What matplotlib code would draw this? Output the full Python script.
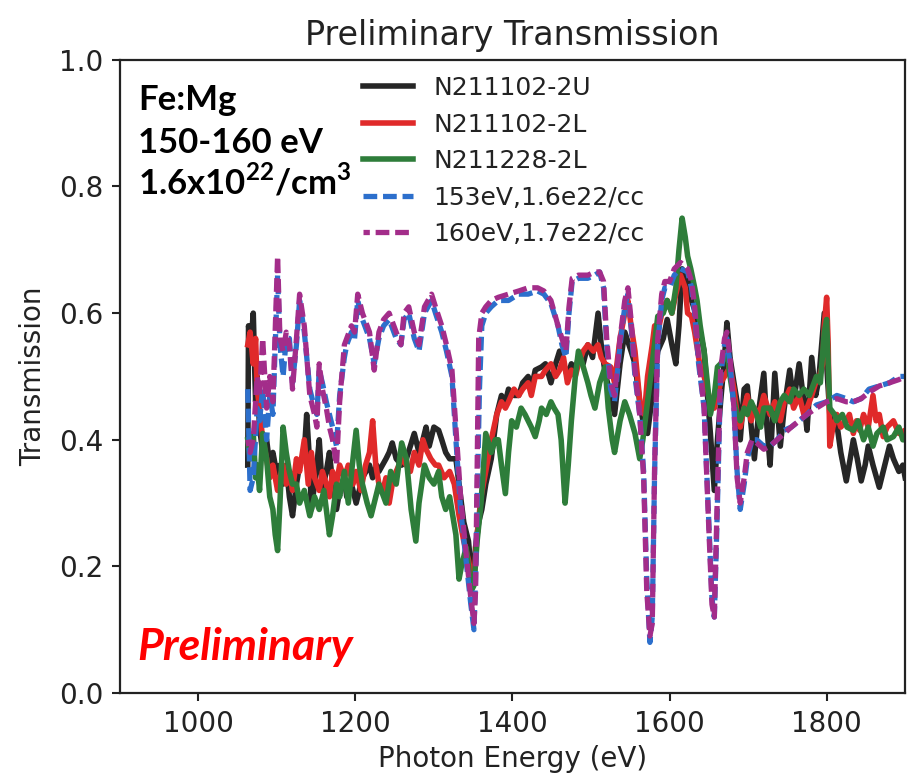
import matplotlib
matplotlib.use("Agg")
import matplotlib.pyplot as plt

plt.rcParams['font.family'] = ['DejaVu Sans']
plt.rcParams['mathtext.fontset'] = 'custom'
plt.rcParams['mathtext.rm'] = 'Lato:bold'
plt.rcParams['mathtext.bf'] = 'Lato:bold'

# N211102-2U (black)
e_2u = [1063, 1064, 1067, 1070, 1073, 1075, 1078, 1082, 1087, 1091, 1095, 1101, 1104, 1108, 1112,
        1116, 1120, 1125, 1129, 1135, 1138, 1142, 1144, 1148, 1151, 1154, 1158, 1163, 1167, 1171,
        1176, 1180, 1186, 1189, 1195, 1201, 1209, 1218, 1222, 1227, 1230, 1239, 1243, 1247, 1252,
        1259, 1265, 1270, 1275, 1281, 1286, 1290, 1294, 1300, 1306, 1310, 1315, 1320, 1328, 1332,
        1338, 1344, 1347, 1351, 1353, 1357, 1361, 1366, 1373, 1380, 1386, 1391, 1395, 1402, 1408,
        1413, 1420, 1424, 1429, 1437, 1442, 1449, 1455, 1460, 1465, 1470, 1475, 1480, 1484, 1490,
        1496, 1502, 1509, 1513, 1518, 1525, 1530, 1537, 1543, 1551, 1556, 1563, 1568, 1572, 1578,
        1585, 1592, 1597, 1603, 1608, 1612, 1616, 1620, 1623, 1628, 1632, 1639, 1644, 1649, 1652,
        1657, 1661, 1665, 1670, 1673, 1677, 1682, 1686, 1690, 1695, 1699, 1704, 1708, 1714, 1720,
        1724, 1728, 1734, 1738, 1741, 1746, 1753, 1758, 1765, 1771, 1775, 1781, 1786, 1790, 1797,
        1800, 1804, 1810, 1813, 1818, 1825, 1830, 1834, 1839, 1844, 1849, 1853, 1859, 1867, 1872,
        1880, 1885, 1892, 1897, 1900]
t_2u = [0.36, 0.58, 0.55, 0.60, 0.46, 0.50, 0.42, 0.38, 0.40, 0.36, 0.38, 0.34, 0.36, 0.33, 0.36,
        0.31, 0.28, 0.33, 0.36, 0.38, 0.44, 0.36, 0.29, 0.33, 0.36, 0.40, 0.32, 0.35, 0.38, 0.33,
        0.29, 0.32, 0.34, 0.31, 0.33, 0.30, 0.34, 0.36, 0.34, 0.36, 0.35, 0.37, 0.38, 0.395, 0.37,
        0.36, 0.37, 0.39, 0.41, 0.38, 0.40, 0.42, 0.39, 0.42, 0.415, 0.40, 0.38, 0.37, 0.37, 0.33,
        0.27, 0.24, 0.20, 0.18, 0.23, 0.27, 0.29, 0.33, 0.37, 0.44, 0.47, 0.46, 0.48, 0.47, 0.47,
        0.49, 0.50, 0.48, 0.51, 0.515, 0.52, 0.49, 0.52, 0.54, 0.52, 0.50, 0.52, 0.51, 0.53, 0.52,
        0.55, 0.53, 0.60, 0.55, 0.505, 0.47, 0.44, 0.52, 0.57, 0.54, 0.52, 0.45, 0.42, 0.41, 0.47,
        0.54, 0.56, 0.59, 0.55, 0.52, 0.58, 0.67, 0.64, 0.66, 0.62, 0.605, 0.57, 0.54, 0.46, 0.41,
        0.32, 0.40, 0.46, 0.53, 0.585, 0.53, 0.49, 0.46, 0.40, 0.48, 0.485, 0.42, 0.37, 0.45, 0.505,
        0.42, 0.36, 0.505, 0.44, 0.39, 0.45, 0.51, 0.46, 0.52, 0.46, 0.415, 0.53, 0.47, 0.495, 0.60,
        0.52, 0.44, 0.43, 0.425, 0.38, 0.335, 0.37, 0.40, 0.37, 0.335, 0.36, 0.39, 0.36, 0.325, 0.35,
        0.39, 0.37, 0.35, 0.36, 0.34]

# N211102-2L (red)
e_2l = [1063, 1066, 1070, 1073, 1075, 1078, 1082, 1087, 1091, 1095, 1101, 1104, 1108, 1112, 1116,
        1120, 1125, 1129, 1135, 1140, 1144, 1148, 1154, 1158, 1163, 1167, 1171, 1176, 1180, 1186,
        1191, 1197, 1201, 1207, 1213, 1218, 1222, 1226, 1230, 1235, 1239, 1243, 1247, 1252, 1259,
        1265, 1270, 1275, 1281, 1286, 1290, 1296, 1302, 1306, 1313, 1320, 1326, 1332, 1338, 1344,
        1347, 1351, 1355, 1360, 1366, 1373, 1380, 1386, 1391, 1395, 1402, 1408, 1413, 1420, 1424,
        1429, 1437, 1442, 1449, 1455, 1460, 1465, 1470, 1475, 1480, 1484, 1490, 1496, 1503, 1509,
        1513, 1518, 1525, 1530, 1537, 1543, 1547, 1551, 1556, 1563, 1568, 1572, 1578, 1581, 1585,
        1592, 1597, 1603, 1608, 1614, 1620, 1623, 1628, 1632, 1639, 1644, 1652, 1657, 1665, 1670,
        1677, 1682, 1686, 1690, 1695, 1699, 1704, 1708, 1714, 1720, 1728, 1734, 1741, 1746, 1753,
        1758, 1765, 1771, 1775, 1781, 1786, 1790, 1795, 1797, 1800, 1802, 1804, 1808, 1813, 1818,
        1825, 1829, 1834, 1838, 1842, 1847, 1853, 1859, 1863, 1867, 1872, 1877, 1885, 1892, 1900]
t_2l = [0.55, 0.57, 0.52, 0.56, 0.48, 0.45, 0.40, 0.37, 0.34, 0.36, 0.32, 0.34, 0.36, 0.33, 0.35,
        0.32, 0.37, 0.35, 0.40, 0.33, 0.38, 0.34, 0.32, 0.35, 0.33, 0.31, 0.35, 0.33, 0.36, 0.34,
        0.36, 0.33, 0.35, 0.32, 0.36, 0.38, 0.43, 0.36, 0.33, 0.32, 0.34, 0.30, 0.33, 0.35, 0.37,
        0.36, 0.35, 0.38, 0.36, 0.40, 0.385, 0.37, 0.36, 0.36, 0.34, 0.35, 0.33, 0.28, 0.24, 0.21,
        0.19, 0.18, 0.25, 0.31, 0.35, 0.40, 0.44, 0.46, 0.45, 0.46, 0.48, 0.47, 0.48, 0.49, 0.47,
        0.50, 0.50, 0.51, 0.52, 0.50, 0.51, 0.53, 0.49, 0.51, 0.50, 0.52, 0.54, 0.55, 0.54, 0.55,
        0.53, 0.52, 0.515, 0.49, 0.56, 0.60, 0.62, 0.58, 0.54, 0.45, 0.44, 0.50, 0.55, 0.58, 0.57,
        0.61, 0.62, 0.60, 0.63, 0.66, 0.64, 0.60, 0.595, 0.57, 0.515, 0.50, 0.46, 0.45, 0.49, 0.50,
        0.515, 0.48, 0.44, 0.42, 0.45, 0.47, 0.43, 0.45, 0.44, 0.47, 0.44, 0.46, 0.43, 0.46, 0.48,
        0.45, 0.47, 0.44, 0.45, 0.47, 0.49, 0.495, 0.52, 0.58, 0.625, 0.55, 0.39, 0.42, 0.44, 0.42,
        0.43, 0.44, 0.41, 0.43, 0.415, 0.44, 0.42, 0.47, 0.43, 0.44, 0.405, 0.42, 0.43, 0.41, 0.415]

# N211228-2L (green)
e_228 = [1063, 1066, 1070, 1073, 1075, 1078, 1082, 1087, 1091, 1095, 1098, 1101, 1104, 1108, 1112,
         1116, 1120, 1125, 1129, 1135, 1142, 1148, 1154, 1160, 1167, 1171, 1176, 1180, 1186, 1191,
         1197, 1201, 1205, 1209, 1215, 1220, 1226, 1230, 1239, 1245, 1252, 1259, 1265, 1271, 1277,
         1281, 1288, 1294, 1300, 1306, 1310, 1315, 1320, 1328, 1332, 1335, 1341, 1344, 1347, 1351,
         1355, 1360, 1366, 1373, 1378, 1382, 1386, 1391, 1395, 1399, 1405, 1411, 1416, 1420, 1424,
         1429, 1434, 1437, 1443, 1449, 1453, 1458, 1462, 1467, 1471, 1475, 1480, 1484, 1489, 1496,
         1500, 1505, 1511, 1518, 1522, 1527, 1530, 1537, 1543, 1549, 1556, 1562, 1566, 1572, 1578,
         1585, 1592, 1597, 1603, 1608, 1612, 1616, 1620, 1623, 1627, 1632, 1635, 1639, 1644, 1649,
         1652, 1657, 1661, 1665, 1670, 1673, 1677, 1682, 1686, 1690, 1695, 1699, 1704, 1711, 1716,
         1720, 1728, 1734, 1741, 1746, 1753, 1758, 1765, 1771, 1778, 1784, 1787, 1792, 1797, 1800,
         1802, 1804, 1810, 1813, 1820, 1826, 1834, 1840, 1847, 1853, 1859, 1864, 1872, 1877, 1885,
         1892, 1897, 1900]
t_228 = [0.40, 0.37, 0.41, 0.34, 0.36, 0.32, 0.41, 0.37, 0.31, 0.29, 0.25, 0.225, 0.30, 0.42, 0.38,
         0.35, 0.33, 0.33, 0.30, 0.32, 0.28, 0.31, 0.29, 0.32, 0.25, 0.28, 0.33, 0.31, 0.35, 0.30,
         0.37, 0.415, 0.36, 0.33, 0.30, 0.28, 0.31, 0.33, 0.30, 0.35, 0.33, 0.395, 0.37, 0.29, 0.24,
         0.30, 0.36, 0.34, 0.33, 0.35, 0.31, 0.29, 0.31, 0.25, 0.18, 0.20, 0.23, 0.20, 0.16, 0.17,
         0.24, 0.30, 0.41, 0.38, 0.40, 0.40, 0.36, 0.315, 0.38, 0.43, 0.42, 0.45, 0.44, 0.43, 0.42,
         0.405, 0.43, 0.45, 0.44, 0.46, 0.45, 0.44, 0.40, 0.30, 0.36, 0.43, 0.50, 0.54, 0.52, 0.49,
         0.47, 0.45, 0.49, 0.515, 0.45, 0.40, 0.38, 0.43, 0.46, 0.44, 0.41, 0.37, 0.40, 0.46, 0.52,
         0.595, 0.60, 0.62, 0.60, 0.64, 0.70, 0.75, 0.72, 0.69, 0.67, 0.64, 0.62, 0.58, 0.54, 0.48,
         0.44, 0.47, 0.515, 0.52, 0.53, 0.54, 0.50, 0.46, 0.44, 0.43, 0.45, 0.44, 0.46, 0.44, 0.42,
         0.45, 0.45, 0.43, 0.46, 0.47, 0.46, 0.48, 0.47, 0.48, 0.47, 0.49, 0.50, 0.49, 0.57, 0.59,
         0.52, 0.45, 0.44, 0.43, 0.44, 0.42, 0.415, 0.43, 0.40, 0.42, 0.39, 0.41, 0.42, 0.40, 0.405,
         0.42, 0.40, 0.40]

# model 153 eV, 1.6e22/cc (blue)
e_153 = [1063, 1066, 1070, 1075, 1078, 1082, 1087, 1091, 1095, 1101, 1104, 1108, 1112, 1116, 1120,
         1125, 1129, 1135, 1142, 1148, 1151, 1154, 1158, 1163, 1167, 1171, 1176, 1180, 1186, 1189,
         1195, 1199, 1203, 1209, 1218, 1224, 1230, 1236, 1243, 1252, 1258, 1262, 1268, 1275, 1281,
         1288, 1297, 1302, 1310, 1316, 1323, 1328, 1334, 1341, 1347, 1351, 1353, 1355, 1358, 1361,
         1366, 1373, 1382, 1395, 1408, 1420, 1432, 1440, 1449, 1458, 1463, 1468, 1472, 1476, 1484,
         1496, 1505, 1511, 1516, 1520, 1525, 1530, 1537, 1543, 1547, 1551, 1556, 1562, 1567, 1571,
         1575, 1578, 1581, 1585, 1590, 1594, 1600, 1606, 1614, 1623, 1628, 1632, 1637, 1644, 1649,
         1654, 1657, 1660, 1665, 1670, 1673, 1677, 1682, 1686, 1690, 1695, 1699, 1705, 1711, 1720,
         1728, 1737, 1746, 1755, 1765, 1775, 1787, 1800, 1813, 1825, 1834, 1844, 1854, 1867, 1880,
         1892, 1900]
t_153 = [0.48, 0.32, 0.34, 0.45, 0.43, 0.48, 0.40, 0.47, 0.44, 0.66, 0.55, 0.50, 0.56, 0.56, 0.49,
         0.55, 0.62, 0.57, 0.48, 0.45, 0.44, 0.51, 0.49, 0.46, 0.44, 0.42, 0.39, 0.47, 0.53, 0.55,
         0.57, 0.56, 0.62, 0.59, 0.56, 0.52, 0.56, 0.58, 0.59, 0.56, 0.55, 0.59, 0.60, 0.56, 0.54,
         0.60, 0.62, 0.60, 0.57, 0.54, 0.50, 0.40, 0.29, 0.21, 0.14, 0.10, 0.18, 0.30, 0.48, 0.58,
         0.60, 0.61, 0.62, 0.62, 0.63, 0.63, 0.635, 0.63, 0.615, 0.58, 0.55, 0.53, 0.60, 0.65, 0.655,
         0.655, 0.66, 0.665, 0.64, 0.55, 0.48, 0.46, 0.55, 0.61, 0.63, 0.58, 0.50, 0.44, 0.35, 0.18,
         0.08, 0.12, 0.35, 0.55, 0.62, 0.64, 0.64, 0.66, 0.67, 0.665, 0.64, 0.60, 0.52, 0.45, 0.30,
         0.15, 0.12, 0.25, 0.50, 0.55, 0.56, 0.52, 0.45, 0.35, 0.29, 0.33, 0.37, 0.40, 0.40, 0.39,
         0.39, 0.40, 0.415, 0.42, 0.43, 0.44, 0.455, 0.46, 0.47, 0.465, 0.46, 0.465, 0.48, 0.485, 0.49,
         0.50, 0.50]

# model 160 eV, 1.7e22/cc (purple)
e_160 = [1063, 1066, 1070, 1075, 1078, 1082, 1087, 1091, 1095, 1101, 1104, 1108, 1112, 1116, 1120,
         1125, 1129, 1135, 1142, 1148, 1151, 1154, 1158, 1163, 1167, 1171, 1176, 1180, 1186, 1189,
         1195, 1199, 1203, 1209, 1218, 1224, 1230, 1236, 1243, 1252, 1258, 1262, 1268, 1275, 1281,
         1288, 1297, 1302, 1310, 1316, 1323, 1328, 1334, 1341, 1347, 1351, 1353, 1355, 1357, 1361,
         1366, 1373, 1382, 1395, 1408, 1420, 1432, 1440, 1449, 1458, 1463, 1468, 1472, 1476, 1484,
         1496, 1505, 1511, 1516, 1520, 1525, 1530, 1537, 1543, 1547, 1551, 1556, 1562, 1567, 1571,
         1575, 1578, 1581, 1585, 1590, 1594, 1600, 1606, 1614, 1623, 1628, 1632, 1637, 1644, 1649,
         1654, 1657, 1660, 1665, 1670, 1673, 1677, 1682, 1686, 1690, 1695, 1699, 1705, 1711, 1720,
         1728, 1737, 1746, 1755, 1765, 1775, 1787, 1800, 1813, 1825, 1834, 1844, 1854, 1867, 1880,
         1892, 1900]
t_160 = [0.40, 0.38, 0.40, 0.50, 0.47, 0.56, 0.45, 0.50, 0.46, 0.69, 0.56, 0.54, 0.57, 0.55, 0.48,
         0.56, 0.63, 0.58, 0.47, 0.44, 0.42, 0.52, 0.48, 0.45, 0.42, 0.40, 0.36, 0.46, 0.55, 0.56,
         0.58, 0.57, 0.63, 0.60, 0.57, 0.51, 0.57, 0.59, 0.60, 0.57, 0.55, 0.60, 0.61, 0.57, 0.55,
         0.61, 0.63, 0.61, 0.58, 0.55, 0.51, 0.42, 0.31, 0.22, 0.15, 0.11, 0.16, 0.35, 0.56, 0.60,
         0.61, 0.62, 0.625, 0.63, 0.635, 0.64, 0.64, 0.635, 0.62, 0.58, 0.56, 0.54, 0.61, 0.655, 0.66,
         0.66, 0.665, 0.665, 0.65, 0.56, 0.49, 0.47, 0.56, 0.62, 0.64, 0.59, 0.51, 0.44, 0.34, 0.16,
         0.09, 0.11, 0.36, 0.56, 0.63, 0.65, 0.65, 0.67, 0.68, 0.67, 0.65, 0.61, 0.53, 0.45, 0.29,
         0.14, 0.12, 0.27, 0.51, 0.56, 0.57, 0.53, 0.45, 0.34, 0.30, 0.34, 0.38, 0.40, 0.395, 0.385,
         0.39, 0.40, 0.41, 0.42, 0.43, 0.44, 0.45, 0.46, 0.465, 0.46, 0.46, 0.465, 0.475, 0.485, 0.49,
         0.495, 0.50]

fig = plt.figure(figsize=(9.07, 7.77), dpi=100)
ax = fig.add_axes([0.132, 0.108, 0.866, 0.815])

ax.plot(e_2u, t_2u, color='#262626', lw=4, label='N211102-2U')
ax.plot(e_2l, t_2l, color='#e02a2a', lw=4, label='N211102-2L')
ax.plot(e_228, t_228, color='#2e7d3a', lw=4, label='N211228-2L')
ax.plot(e_153, t_153, color='#2c6fcc', lw=3.8, ls=(0, (2.6, 1.1)), label='153eV,1.6e22/cc')
ax.plot(e_160, t_160, color='#a32d8a', lw=3.8, ls=(1.4, (2.6, 1.1)), label='160eV,1.7e22/cc')

ax.set_xlim(900, 1900)
ax.set_ylim(0, 1.0)
ax.set_xticks([1000, 1200, 1400, 1600, 1800])
ax.set_yticks([0.0, 0.2, 0.4, 0.6, 0.8, 1.0])
ax.tick_params(labelsize=20, length=6, width=1.5, pad=6, colors='#222222')
for s in ax.spines.values():
    s.set_linewidth(1.6)
    s.set_color('#222222')

ax.set_title('Preliminary Transmission', fontsize=24, pad=11, color='#222222')
ax.set_xlabel('Photon Energy (eV)', fontsize=20, color='#222222', labelpad=5)
ax.set_ylabel('Transmission', fontsize=20, color='#222222', labelpad=8)

leg = ax.legend(loc='upper left', bbox_to_anchor=(0.297, 0.99), frameon=False,
                fontsize=18, borderaxespad=0, handlelength=2.0, labelcolor='#222222')

ax.text(0.023, 0.921, 'Fe:Mg', transform=ax.transAxes, family='Lato', weight='bold',
        fontsize=25, va='baseline', color='black')
ax.text(0.023, 0.853, '150-160 eV', transform=ax.transAxes, family='Lato', weight='bold',
        fontsize=25, va='baseline', color='black')
ax.text(0.023, 0.788, r'1.6x10$^{22}$/cm$^{3}$', transform=ax.transAxes, family='Lato',
        weight='bold', fontsize=25, va='baseline', color='black')
ax.text(0.022, 0.052, 'Preliminary', transform=ax.transAxes, family='Lato', weight='bold',
        style='italic', fontsize=32, va='baseline', color='#ff0000')

fig.savefig('out.png', dpi=100)
